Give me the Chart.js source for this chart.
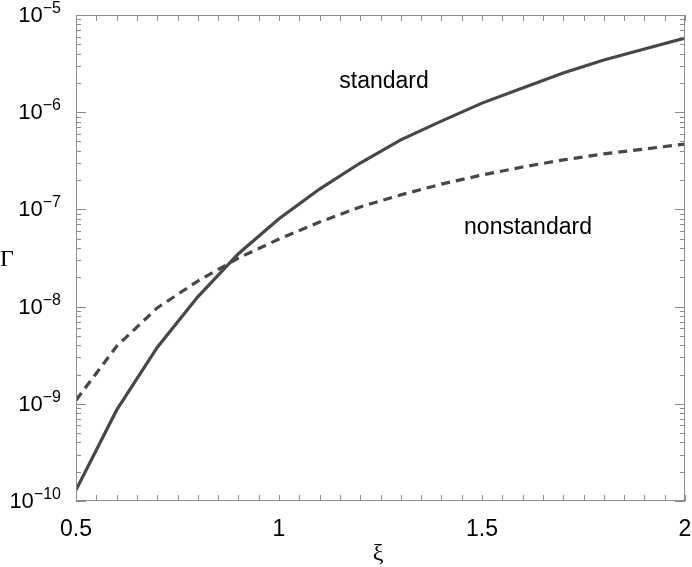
<!DOCTYPE html>
<html>
<head>
<meta charset="utf-8">
<script src="https://cdn.jsdelivr.net/npm/chart.js@4"></script>
<style>
  html, body { margin: 0; padding: 0; background: #fff; }
  #wrap { width: 692px; height: 567px; }
</style>
</head>
<body>
<div id="wrap"><canvas id="gammaChart"></canvas></div>
<script>
// values
const xi = [0.5, 0.6, 0.7, 0.8, 0.9, 1.0, 1.1, 1.2, 1.3, 1.4, 1.5, 1.6, 1.7, 1.8, 1.9, 2.0];
const standard = [1.3e-10, 8.6e-10, 3.8e-9, 1.26e-8, 3.5e-8, 8.0e-8, 1.62e-7, 3.0e-7,
                  5.2e-7, 8.1e-7, 1.24e-6, 1.77e-6, 2.53e-6, 3.44e-6, 4.47e-6, 5.8e-6];
const nonstandard = [1.09e-9, 3.9e-9, 9.7e-9, 1.83e-8, 3.16e-8, 4.95e-8, 7.4e-8, 1.06e-7,
                     1.41e-7, 1.82e-7, 2.26e-7, 2.73e-7, 3.23e-7, 3.72e-7, 4.18e-7, 4.7e-7];

const xTicks = [0.5, 1, 1.5, 2];
const xTickLabels = ["0.5", "1", "1.5", "2"];
const yExponents = [-10, -9, -8, -7, -6, -5];

const lineColor = "#474747";
const frameColor = "#8c8c8c";

function pts(ys) {
  return xi.map((x, i) => ({ x: x, y: ys[i] }));
}

// frame, inward ticks, tick labels, axis titles and curve labels
const axesPlugin = {
  id: "axesPlugin",
  afterDraw(chart) {
    const c = chart.ctx;
    const a = chart.chartArea;
    const xs = chart.scales.x;
    const ys = chart.scales.y;
    c.save();

    c.strokeStyle = frameColor;
    c.lineWidth = 1;
    c.strokeRect(a.left + 0.5, a.top + 0.5, a.right - a.left - 1, a.bottom - a.top - 1);

    c.beginPath();
    // x minor ticks every 0.05, top and bottom
    for (let k = 0; k <= 30; k++) {
      const v = 0.5 + k * 0.05;
      const px = Math.round(xs.getPixelForValue(v)) + 0.5;
      const len = 6;
      c.moveTo(px, a.bottom); c.lineTo(px, a.bottom - len);
      c.moveTo(px, a.top); c.lineTo(px, a.top + len);
    }
    // y decade and minor ticks, left and right
    for (let e = -10; e < -5; e++) {
      for (let m = 1; m <= 9; m++) {
        const py = Math.round(ys.getPixelForValue(m * Math.pow(10, e))) + 0.5;
        const len = m === 1 ? 10 : 5;
        c.moveTo(a.left, py); c.lineTo(a.left + len, py);
        c.moveTo(a.right, py); c.lineTo(a.right - len, py);
      }
    }
    c.stroke();

    c.fillStyle = "#000";
    // x tick labels
    c.font = "23px 'Liberation Sans', Arial, sans-serif";
    c.textAlign = "center";
    c.textBaseline = "middle";
    xTicks.forEach((v, i) => {
      c.fillText(xTickLabels[i], xs.getPixelForValue(v), 530);
    });

    // y tick labels: 10 with superscript exponent
    yExponents.forEach(e => {
      const py = ys.getPixelForValue(Math.pow(10, e));
      const sup = "\u2212" + Math.abs(e);
      c.font = "16px 'Liberation Sans', Arial, sans-serif";
      const w = c.measureText(sup).width;
      c.textAlign = "right";
      c.textBaseline = "alphabetic";
      c.fillText(sup, 61, py - 2);
      c.font = "22px 'Liberation Sans', Arial, sans-serif";
      c.textBaseline = "middle";
      c.fillText("10", 61 - w, py + 1);
    });

    // axis titles
    c.font = "24px 'Liberation Serif', 'Times New Roman', serif";
    c.textAlign = "center";
    c.textBaseline = "middle";
    c.fillText("\u03be", 378, 554);
    c.textAlign = "left";
    c.fillText("\u0393", 0, 260);

    // curve labels
    c.font = "23px 'Liberation Sans', Arial, sans-serif";
    c.textAlign = "center";
    c.fillText("standard", 384, 82);
    c.fillText("nonstandard", 528, 228);

    c.restore();
  }
};

new Chart(document.getElementById("gammaChart"), {
  type: "line",
  data: {
    datasets: [
      {
        label: "standard",
        data: pts(standard),
        borderColor: lineColor,
        borderWidth: 3.2,
        pointRadius: 0,
        tension: 0,
        fill: false
      },
      {
        label: "nonstandard",
        data: pts(nonstandard),
        borderColor: lineColor,
        borderWidth: 3.2,
        borderDash: [9, 6],
        pointRadius: 0,
        tension: 0,
        fill: false
      }
    ]
  },
  options: {
    responsive: true,
    maintainAspectRatio: false,
    animation: false,
    layout: {
      padding: { left: 76, right: 7, top: 15, bottom: 66 }
    },
    plugins: {
      legend: { display: false },
      tooltip: { enabled: false }
    },
    scales: {
      x: {
        type: "linear",
        min: 0.5,
        max: 2,
        display: false
      },
      y: {
        type: "logarithmic",
        min: 1e-10,
        max: 1e-5,
        display: false
      }
    }
  },
  plugins: [axesPlugin]
});
</script>
</body>
</html>
